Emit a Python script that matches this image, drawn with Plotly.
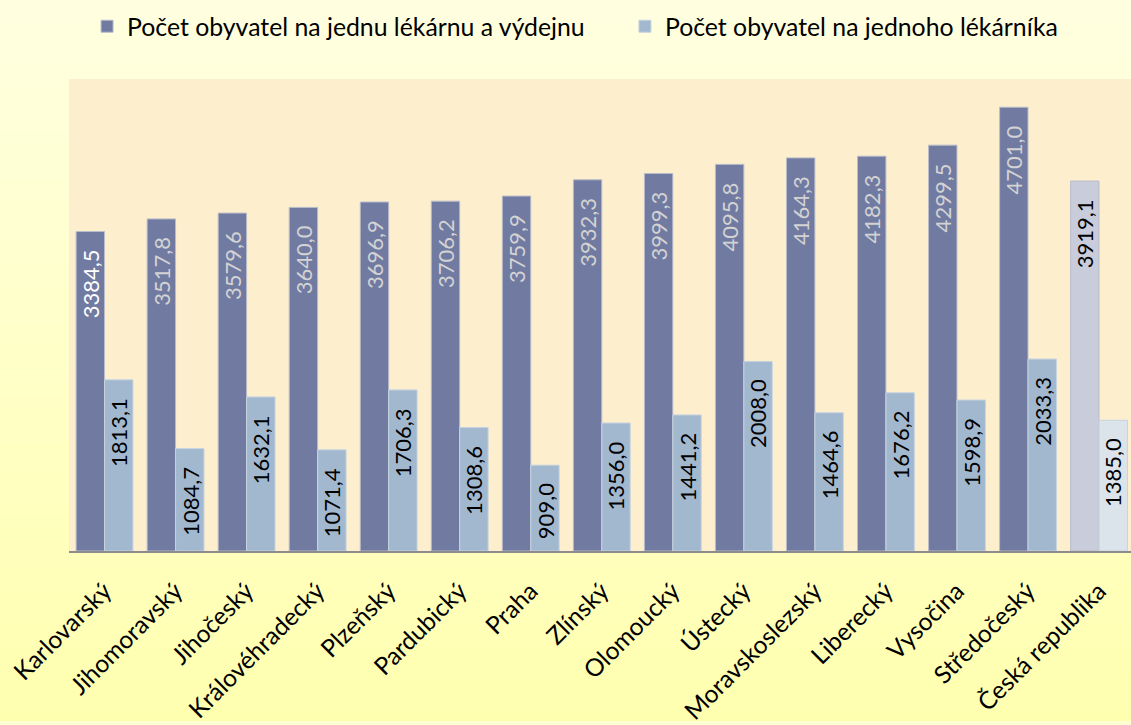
import plotly.graph_objects as go

categories = ["Karlovarský", "Jihomoravský", "Jihočeský", "Královéhradecký", "Plzeňský",
              "Pardubický", "Praha", "Zlínský", "Olomoucký", "Ústecký", "Moravskoslezský",
              "Liberecký", "Vysočina", "Středočeský", "Česká republika"]
per_pharmacy = [3384.5, 3517.8, 3579.6, 3640.0, 3696.9, 3706.2, 3759.9, 3932.3, 3999.3,
                4095.8, 4164.3, 4182.3, 4299.5, 4701.0, 3919.1]
per_pharmacist = [1813.1, 1084.7, 1632.1, 1071.4, 1706.3, 1308.6, 909.0, 1356.0, 1441.2,
                  2008.0, 1464.6, 1676.2, 1598.9, 2033.3, 1385.0]
series_names = ["Počet obyvatel na jednu lékárnu a výdejnu", "Počet obyvatel na jednoho lékárníka"]

FONT = "Lato"
DARK, LIGHT = "#717BA2", "#A2B8CF"
DARK_CR, LIGHT_CR = "#C9CCDB", "#DBE3EB"

def fmt(v):
    return f"{v:.1f}".replace(".", ",")

n = len(categories)
dark_colors = [DARK] * (n - 1) + [DARK_CR]
light_colors = [LIGHT] * (n - 1) + [LIGHT_CR]

fig = go.Figure()
fig.add_trace(go.Bar(x=categories, y=per_pharmacy, name=series_names[0], legend="legend",
                     marker=dict(color=dark_colors, line=dict(color="#B9BCCB", width=1))))
fig.add_trace(go.Bar(x=categories, y=per_pharmacist, name=series_names[1], legend="legend2",
                     marker=dict(color=light_colors, line=dict(color="#C6D3E0", width=1))))

annotations = []
for i, v in enumerate(per_pharmacy):
    col = "#000000" if i == n - 1 else ("#FFFFFF" if i == 0 else "#D3D3D3")
    annotations.append(dict(x=i - 0.2, y=v, xref="x", yref="y", text=fmt(v), showarrow=False,
                            textangle=-90, xanchor="center", yanchor="top", yshift=-16,
                            font=dict(family=FONT, size=22, color=col)))
for i, v in enumerate(per_pharmacist):
    annotations.append(dict(x=i + 0.2, y=v, xref="x", yref="y", text=fmt(v), showarrow=False,
                            textangle=-90, xanchor="center", yanchor="top", yshift=-16,
                            font=dict(family=FONT, size=22, color="#000000")))

# background gradient (paper) and plot area
shapes = []
top_c = (255, 255, 224)
bot_c = (255, 255, 176)
N = 60
y_lo, y_hi = -0.36, 1.17
for k in range(N):
    t = k / (N - 1)
    c = tuple(round(bot_c[j] + (top_c[j] - bot_c[j]) * t) for j in range(3))
    y0 = y_lo + (y_hi - y_lo) * k / N
    y1 = y_lo + (y_hi - y_lo) * (k + 1) / N + 0.002
    shapes.append(dict(type="rect", xref="paper", yref="paper", x0=-0.08, x1=1.02,
                       y0=y0, y1=y1, fillcolor=f"rgb{c}", line=dict(width=0), layer="below"))
shapes.append(dict(type="rect", xref="paper", yref="paper", x0=0, x1=1, y0=0, y1=1,
                   fillcolor="#FDEFCE", line=dict(width=0), layer="below"))

legend_common = dict(orientation="h", y=1.111, yanchor="middle", xanchor="left",
                     font=dict(family=FONT, size=24.8, color="#000000"),
                     bgcolor="rgba(0,0,0,0)", itemwidth=30)

fig.update_layout(
    width=1131, height=725,
    margin=dict(l=69, r=0, t=79, b=169),
    paper_bgcolor="#FFFFD2",
    plot_bgcolor="#FDEFCE",
    barmode="group", bargap=0.2, bargroupgap=0,
    font=dict(family=FONT, size=24, color="#000000"),
    legend=dict(x=0.017, **legend_common),
    legend2=dict(x=0.5235, **legend_common),
    xaxis=dict(range=[-0.5, 14.45], tickangle=-45, tickfont=dict(family=FONT, size=24.5),
               showline=True, linecolor="#8C8C8C", linewidth=2, ticks="outside",
               ticklen=14, tickcolor="rgba(0,0,0,0)", showgrid=False, fixedrange=True),
    yaxis=dict(range=[0, 5000], visible=False, showgrid=False, fixedrange=True),
    annotations=annotations,
    shapes=shapes,
    showlegend=True,
)

fig.write_html("out.html", config={"displayModeBar": False},
               post_script="document.body.style.margin='0';document.body.style.overflow='hidden';")
